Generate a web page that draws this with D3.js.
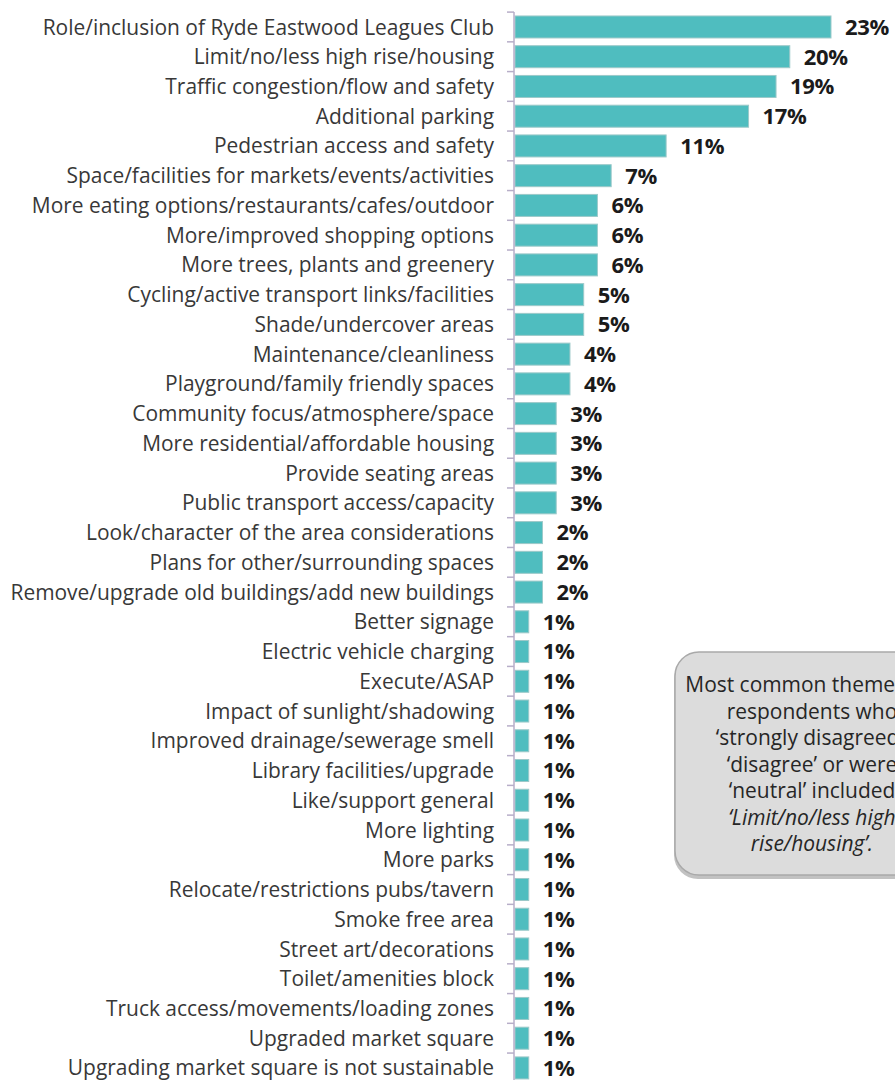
<!DOCTYPE html>
<html>
<head>
<meta charset="utf-8">
<script src="https://cdn.jsdelivr.net/npm/d3@7"></script>
<style>
  html, body { margin: 0; padding: 0; background: #ffffff; }
  svg { display: block; }
</style>
</head>
<body>
<script>
// Themes raised by respondents, share of mentions (%)
const categories = [
  "Role/inclusion of Ryde Eastwood Leagues Club",
  "Limit/no/less high rise/housing",
  "Traffic congestion/flow and safety",
  "Additional parking",
  "Pedestrian access and safety",
  "Space/facilities for markets/events/activities",
  "More eating options/restaurants/cafes/outdoor",
  "More/improved shopping options",
  "More trees, plants and greenery",
  "Cycling/active transport links/facilities",
  "Shade/undercover areas",
  "Maintenance/cleanliness",
  "Playground/family friendly spaces",
  "Community focus/atmosphere/space",
  "More residential/affordable housing",
  "Provide seating areas",
  "Public transport access/capacity",
  "Look/character of the area considerations",
  "Plans for other/surrounding spaces",
  "Remove/upgrade old buildings/add new buildings",
  "Better signage",
  "Electric vehicle charging",
  "Execute/ASAP",
  "Impact of sunlight/shadowing",
  "Improved drainage/sewerage smell",
  "Library facilities/upgrade",
  "Like/support general",
  "More lighting",
  "More parks",
  "Relocate/restrictions pubs/tavern",
  "Smoke free area",
  "Street art/decorations",
  "Toilet/amenities block",
  "Truck access/movements/loading zones",
  "Upgraded market square",
  "Upgrading market square is not sustainable"
];

const values = [
  23, 20, 19, 17, 11, 7, 6, 6, 6, 5, 5, 4, 4, 3, 3, 3, 3, 2, 2, 2,
  1, 1, 1, 1, 1, 1, 1, 1, 1, 1, 1, 1, 1, 1, 1, 1
];

const valueLabels = values.map(v => v + "%");

// Call-out note text, one entry per line
const noteLines = [
  "Most common themes for",
  "respondents who",
  "\u2018strongly disagreed\u2019,",
  "\u2018disagree\u2019 or were",
  "\u2018neutral\u2019 included",
  "\u2018Limit/no/less high",
  "rise/housing\u2019."
];
const noteItalic = [false, false, false, false, false, true, true];

const W = 895, H = 1080;
const labelFont = "'Open Sans', 'Noto Sans', sans-serif";

const rows = categories.map((c, i) => ({ name: c, value: values[i], label: valueLabels[i] }));

const svg = d3.select("body").append("svg")
  .attr("width", W).attr("height", H)
  .attr("viewBox", `0 0 ${W} ${H}`);

function measure(text, size) {
  const t = svg.append("text")
    .attr("font-family", labelFont)
    .attr("font-size", size)
    .text(text);
  const w = t.node().getComputedTextLength();
  t.remove();
  return w;
}

// Category label size: longest label fills the left column
const longest = categories.reduce((a, b) => measure(b, 20) > measure(a, 20) ? b : a);
const catSize = 20 * 484 / measure(longest, 20);

const y = d3.scaleBand()
  .domain(categories)
  .range([12.1, 1082.8])
  .paddingInner(0.26)
  .paddingOuter(0.13);

const x = d3.scaleLinear()
  .domain([0, d3.max(values)])
  .range([515, 831]);

// Bars
svg.append("g").selectAll("rect")
  .data(rows)
  .join("rect")
  .attr("x", x(0))
  .attr("y", d => y(d.name))
  .attr("width", d => x(d.value) - x(0))
  .attr("height", y.bandwidth())
  .attr("fill", "#4fbdbf")
  .attr("stroke", "#9cc9c9")
  .attr("stroke-width", 1);

// Category axis: vertical line with ticks between categories
const axisX = 514;
const half = y.step() * y.paddingInner() / 2;
const bounds = categories.map(c => y(c) - half);
bounds.push(y(categories[categories.length - 1]) + y.bandwidth() + half);

const axis = svg.append("g").attr("stroke", "#b7aec8").attr("stroke-width", 1.5);
axis.append("line")
  .attr("x1", axisX).attr("x2", axisX)
  .attr("y1", bounds[0]).attr("y2", H);
axis.selectAll("line.tick")
  .data(bounds)
  .join("line")
  .attr("class", "tick")
  .attr("x1", axisX - 7).attr("x2", axisX)
  .attr("y1", d => d).attr("y2", d => d);

// Category labels
svg.append("g").selectAll("text")
  .data(rows)
  .join("text")
  .attr("x", 494)
  .attr("y", d => y(d.name) + y.bandwidth() / 2)
  .attr("dy", "0.36em")
  .attr("text-anchor", "end")
  .attr("font-family", labelFont)
  .attr("font-size", catSize)
  .attr("fill", "#383838")
  .text(d => d.name);

// Value labels
svg.append("g").selectAll("text")
  .data(rows)
  .join("text")
  .attr("x", d => x(d.value) + 14)
  .attr("y", d => y(d.name) + y.bandwidth() / 2)
  .attr("dy", "0.36em")
  .attr("font-family", labelFont)
  .attr("font-size", 22)
  .attr("font-weight", 700)
  .attr("letter-spacing", "-0.3px")
  .attr("fill", "#1b1b1b")
  .text(d => d.label);

// Call-out note (box runs past the right edge of the page)
const noteLeft = 675;
const noteCx = 812;
const noteRight = noteCx + (noteCx - noteLeft);

const note = svg.append("g");
note.append("rect")
  .attr("x", noteLeft - 1).attr("y", 655)
  .attr("width", noteRight - noteLeft).attr("height", 224)
  .attr("rx", 24).attr("ry", 24)
  .attr("fill", "#c2c2c2");
note.append("rect")
  .attr("x", noteLeft).attr("y", 652)
  .attr("width", noteRight - noteLeft).attr("height", 223)
  .attr("rx", 24).attr("ry", 24)
  .attr("fill", "#dcdcdc")
  .attr("stroke", "#a9a9a9")
  .attr("stroke-width", 1.5);

note.selectAll("text")
  .data(noteLines)
  .join("text")
  .attr("x", noteCx)
  .attr("y", (d, i) => 692 + i * 26.5)
  .attr("text-anchor", "middle")
  .attr("font-family", labelFont)
  .attr("font-size", catSize)
  .attr("font-style", (d, i) => noteItalic[i] ? "italic" : "normal")
  .attr("fill", "#262626")
  .text(d => d);
</script>
</body>
</html>
